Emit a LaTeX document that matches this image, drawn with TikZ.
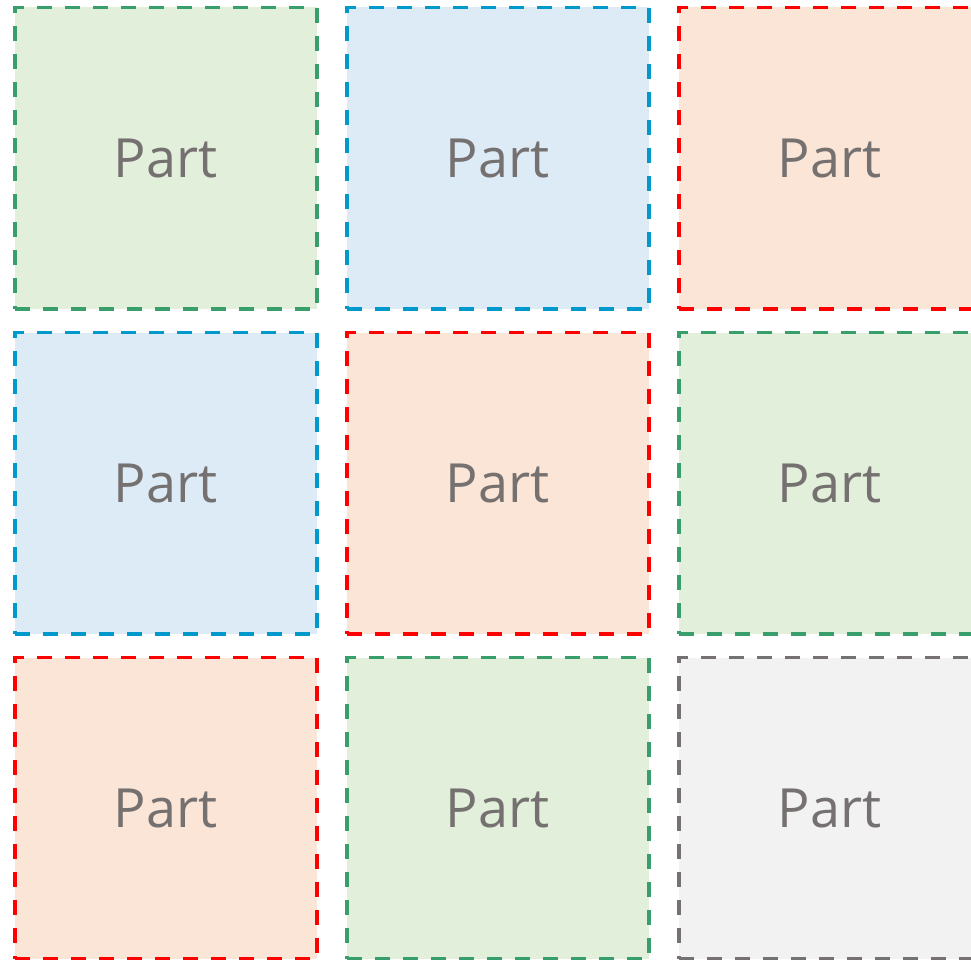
\documentclass[tikz,border=0pt]{standalone}
\usepackage{fontspec}
\setmainfont{Open Sans}
\usetikzlibrary{positioning}
\definecolor{PartGreen}{RGB}{56,158,108}
\definecolor{PartBlue}{RGB}{0,153,204}
\definecolor{PartRed}{RGB}{255,0,0}
\definecolor{PartGray}{RGB}{118,113,113}
\definecolor{FillGreen}{RGB}{226,239,218}
\definecolor{FillBlue}{RGB}{221,235,247}
\definecolor{FillRed}{RGB}{251,229,214}
\definecolor{FillGray}{RGB}{242,242,242}
\tikzset{
  partbox/.style={minimum width=302pt,minimum height=301.5pt,inner sep=0pt,
    outer sep=0pt,line width=3.5pt,dash pattern=on 15pt off 13pt,
    text=PartGray,font=\fontsize{54}{60}\selectfont},
  greenpart/.style={partbox,draw=PartGreen,fill=FillGreen},
  bluepart/.style={partbox,draw=PartBlue,fill=FillBlue},
  redpart/.style={partbox,draw=PartRed,fill=FillRed},
  graypart/.style={partbox,draw=PartGray,fill=FillGray}
}
\begin{document}
\begin{tikzpicture}[x=1pt,y=-1pt]
      \useasboundingbox (0,0) rectangle (971,960);
      % first row
      \node[greenpart] (p11) at (165.75,158.25) {Part};
      \node[bluepart,right=30pt of p11] (p12) {Part};
      \node[redpart,right=30pt of p12] (p13) {Part};
      % second row
      \node[bluepart,below=23.5pt of p11] (p21) {Part};
      \node[redpart,right=30pt of p21] (p22) {Part};
      \node[greenpart,right=30pt of p22] (p23) {Part};
      % third row
      \node[redpart,below=23.5pt of p21] (p31) {Part};
      \node[greenpart,right=30pt of p31] (p32) {Part};
      \node[graypart,right=30pt of p32] (p33) {Part};
    \end{tikzpicture}
\end{document}
